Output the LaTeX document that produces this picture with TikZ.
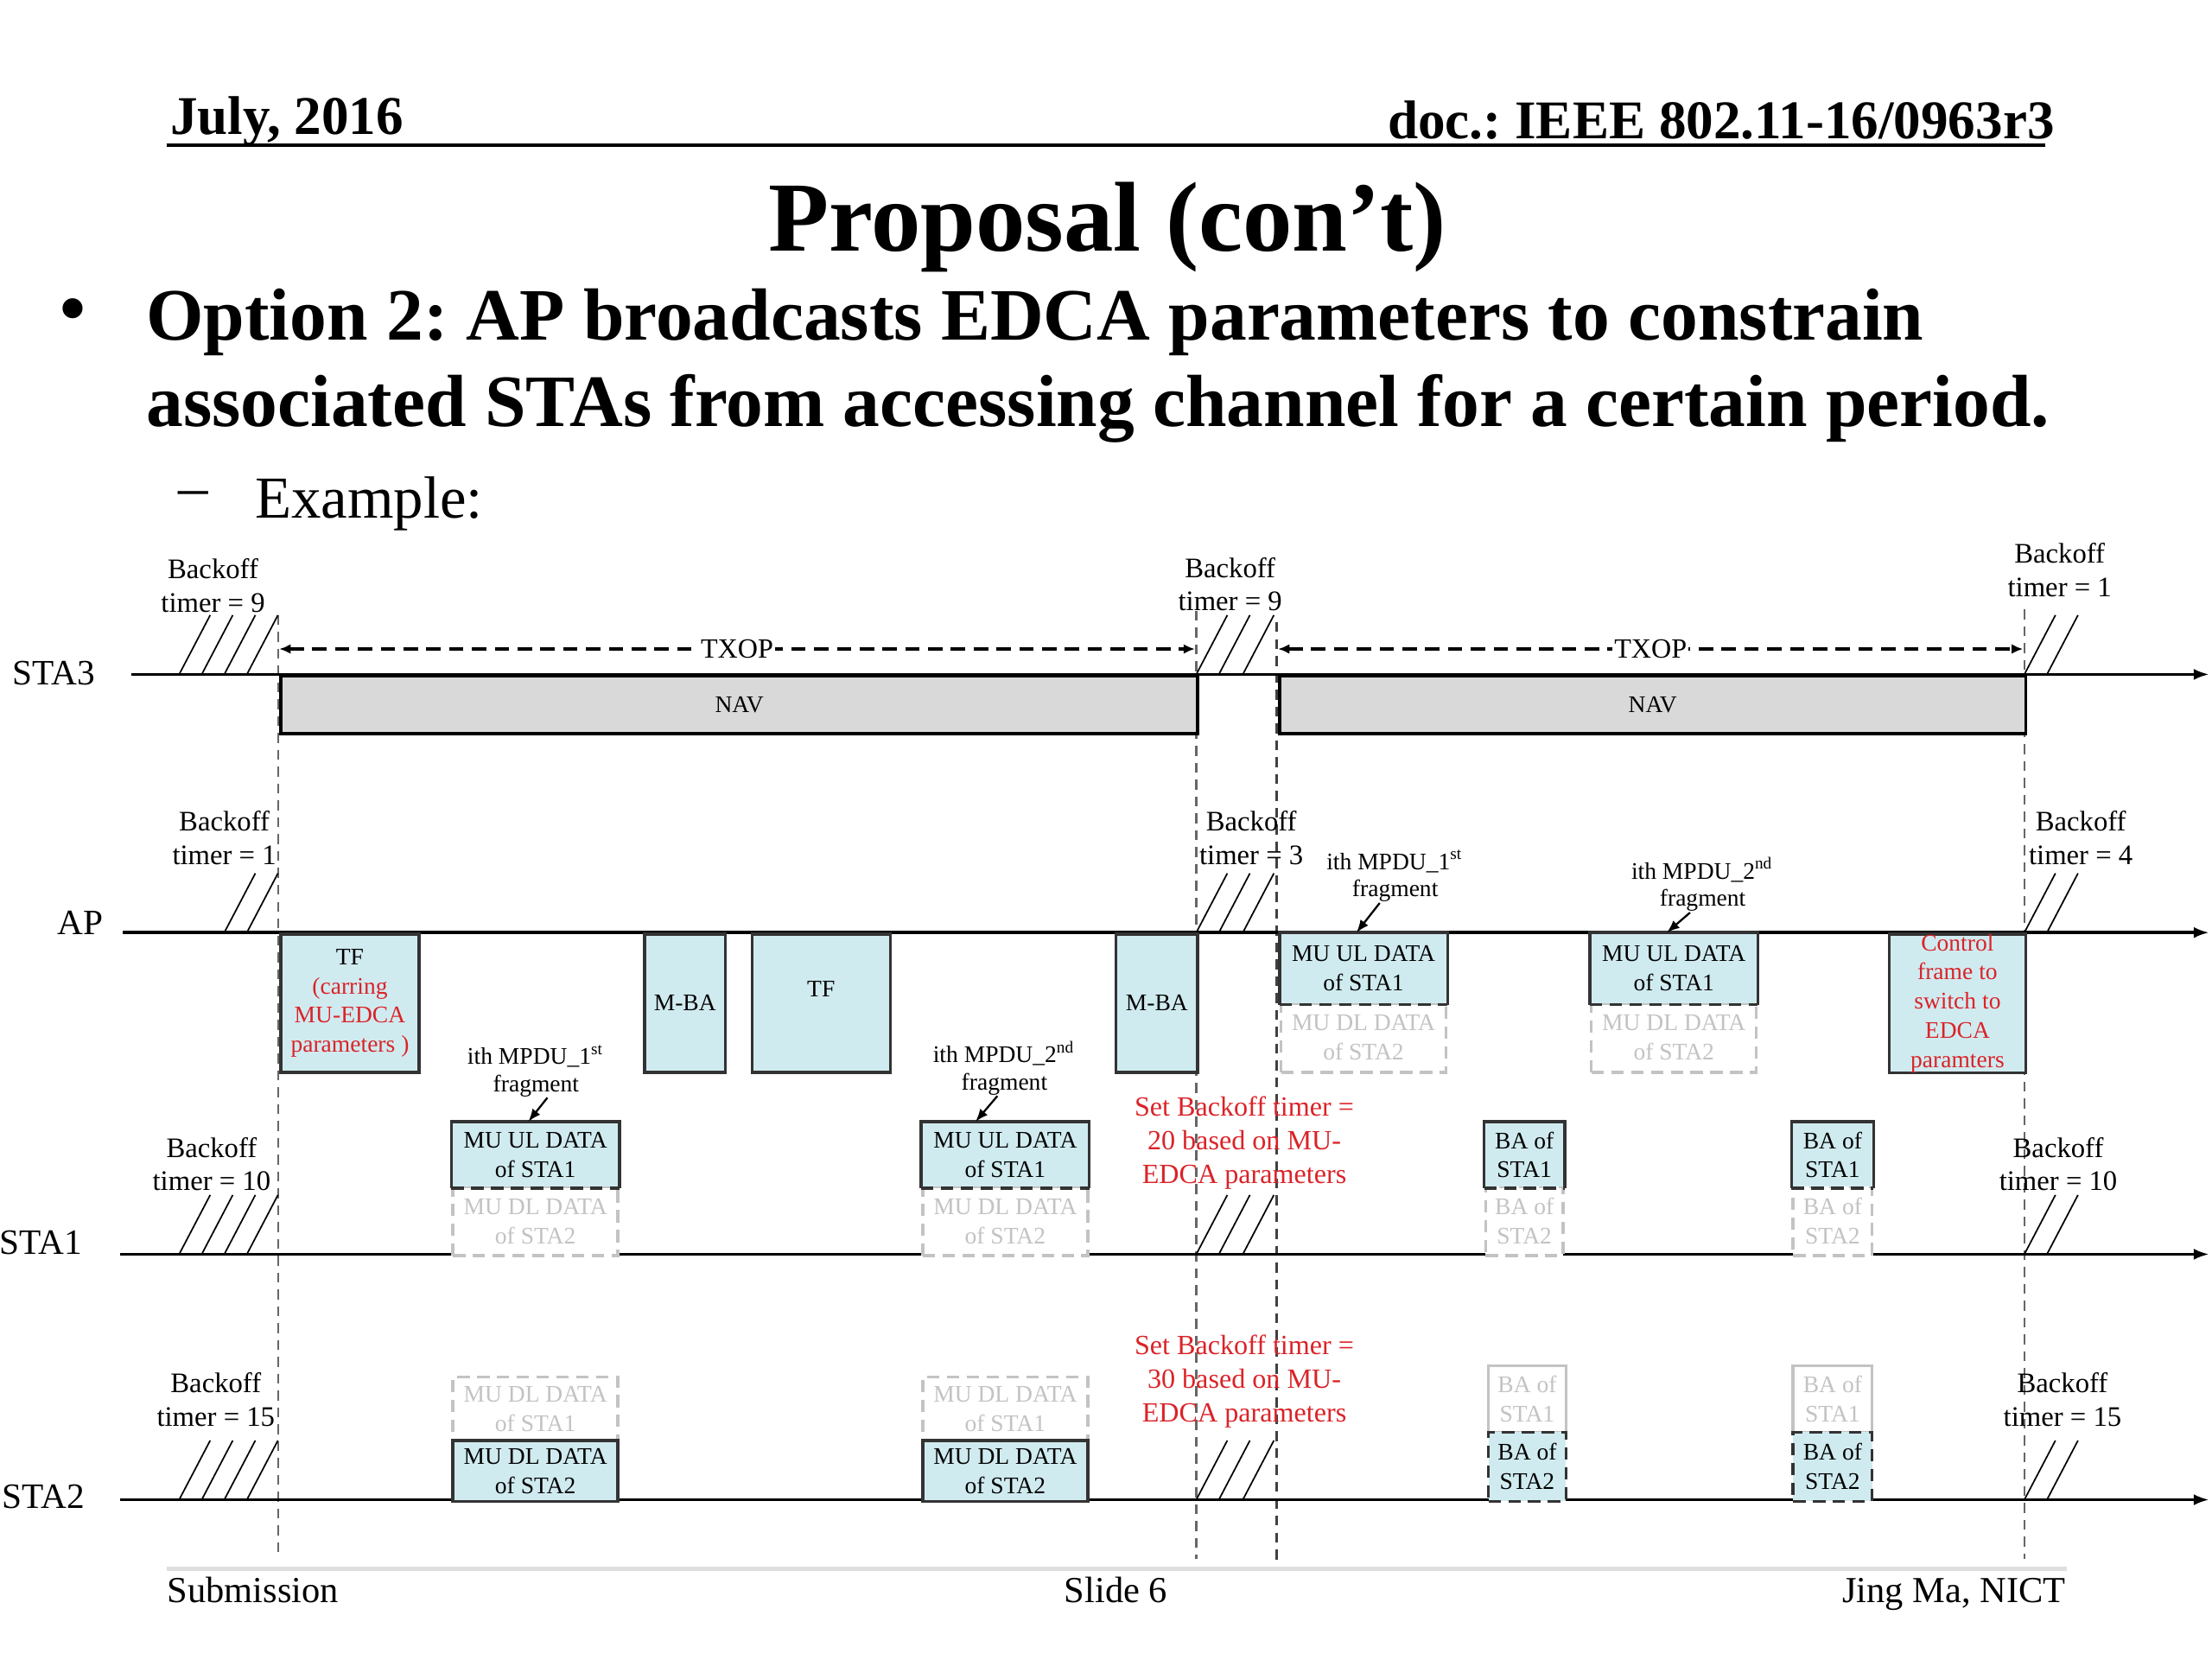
\documentclass[tikz,border=0pt]{standalone}
\usepackage{fontspec}
\setmainfont{Liberation Serif}
\usetikzlibrary{arrows.meta}
\frenchspacing

\definecolor{boxcyan}{RGB}{208,235,240}
\definecolor{navgray}{RGB}{217,217,217}
\definecolor{notered}{RGB}{218,35,40}
\definecolor{ghostgray}{RGB}{195,195,195}

\begin{document}
\begin{tikzpicture}[
        x=0.1mm, y=-0.1mm,
        station/.style={inner sep=0pt, font=\fontsize{7.2}{8.6}\selectfont},
        timeline/.style={-{Latex[length=1.1mm, width=0.8mm]}, line width=0.6pt},
        hatch/.style={line width=0.3pt},
        guide/.style={draw=black!60, line width=0.35pt, dash pattern=on 2pt off 1.4pt},
        txop/.style={{Latex[length=0.8mm, width=0.7mm]}-{Latex[length=0.8mm, width=0.7mm]}, line width=0.6pt, dash pattern=on 2.9pt off 1.7pt},
        txoplabel/.style={fill=white, inner sep=0.4pt, font=\fontsize{5.6}{6.7}\selectfont},
        backoff/.style={align=center, inner sep=0pt, font=\fontsize{5.7}{6.7}\selectfont},
        navbox/.style={rectangle, draw, fill=navgray, line width=0.6pt, anchor=north west, inner sep=0pt, minimum height=4.1mm, font=\fontsize{4.8}{5.8}\selectfont},
        frame/.style={rectangle, draw=black!80, fill=boxcyan, line width=0.6pt, anchor=north west, inner sep=0pt, align=center, font=\fontsize{4.8}{5.9}\selectfont},
        upper/.style={frame, draw=none},
        ghost/.style={frame, draw=ghostgray, fill=white, text=ghostgray, dash pattern=on 2.5pt off 1.5pt},
        frag/.style={align=center, inner sep=0pt, font=\fontsize{4.8}{5.5}\selectfont},
        note/.style={align=center, inner sep=0pt, text=notered, font=\fontsize{5.6}{6.75}\selectfont},
        arrow/.style={-{Latex[length=0.9mm, width=0.7mm]}, line width=0.4pt},
        edge/.style={draw=black!80, line width=0.6pt},
        heading/.style={inner sep=0pt, font=\bfseries\fontsize{11}{13}\selectfont},
        point/.style={anchor=base west, inner sep=0pt, font=\bfseries\fontsize{14.9}{17.5}\selectfont},
        footer/.style={inner sep=0pt, font=\fontsize{7.4}{9}\selectfont},
    ]
    \useasboundingbox (0,0) rectangle (1568,1176);

    % slide header
    \node[heading, anchor=base west] (date) at (120,95) {July, 2016};
    \node[heading, anchor=base east] (docid) at (1457,98) {doc.: IEEE 802.11-16/0963r3};
    \draw[line width=0.7pt] (118,103) -- (1450,103);
    \node[anchor=base, inner sep=0pt, font=\bfseries\fontsize{20}{24}\selectfont] (title) at (785,178) {Proposal (con’t)};
    \node[font=\bfseries\fontsize{14.9}{17.5}\selectfont] (dot) at (52,224) {\textbullet};
    \node[point] (opt1) at (103,241) {Option 2: AP broadcasts EDCA parameters to constrain};
    \node[point] (opt2) at (103,302) {associated STAs from accessing channel for a certain period.};
    \node[font=\fontsize{12}{14}\selectfont] (dash) at (137,354) {–};
    \node[anchor=base west, inner sep=0pt, font=\fontsize{12}{14}\selectfont] (example) at (180,367) {Example:};

    % guides
    \draw[guide] (197,436) -- (197,1105);
    \draw[guide] (848,433) -- (848,1105);
    \draw[guide, draw=black!75, line width=0.55pt] (905,441) -- (905,1113);
    \draw[guide] (1435,432) -- (1435,1105);

    % stations
    \node[station] (sta3) at (38,477) {STA3};
    \node[station] (ap) at (57,654) {AP};
    \node[station] (sta1) at (29,881) {STA1};
    \node[station] (sta2) at (31,1061) {STA2};
    \foreach \y/\x in {478/93, 661/87, 889/85, 1063/85}
        \draw[timeline] (\x,\y) -- (1566,\y);

    % backoff slots
    \foreach \y in {478, 889, 1063}
        \foreach \x in {127, 143, 159, 175}
            \draw[hatch] (\x,\y) -- ++(22,-42);
    \foreach \x in {159, 175}
        \draw[hatch] (\x,661) -- ++(22,-42);
    \foreach \y in {478, 661, 889, 1063} {
        \foreach \x in {848, 864, 881}
            \draw[hatch] (\x,\y) -- ++(22,-42);
        \foreach \x in {1435, 1451}
            \draw[hatch] (\x,\y) -- ++(22,-42);
    }

    \node[backoff] (bo3a) at (151,415) {Backoff\\timer = 9};
    \node[backoff] (bo3b) at (872,414) {Backoff\\timer = 9};
    \node[backoff] (bo3c) at (1460,404) {Backoff\\timer = 1};
    \node[backoff] (boapa) at (159,594) {Backoff\\timer = 1};
    \node[backoff] (boapb) at (887,594) {Backoff\\timer = 3};
    \node[backoff] (boapc) at (1475,594) {Backoff\\timer = 4};
    \node[backoff] (bo1a) at (150,825) {Backoff\\timer = 10};
    \node[backoff] (bo1b) at (1459,825) {Backoff\\timer = 10};
    \node[backoff] (bo2a) at (153,992) {Backoff\\timer = 15};
    \node[backoff] (bo2b) at (1462,992) {Backoff\\timer = 15};

    % STA3: NAV and TXOP
    \node[navbox, minimum width=65mm] (nav1) at (198,478) {NAV};
    \node[navbox, minimum width=52.9mm] (nav2) at (906,478) {NAV};
    \coordinate (txop1s) at (198,460);
    \coordinate (txop1e) at (847,460);
    \coordinate (txop2s) at (906,460);
    \coordinate (txop2e) at (1434,460);
    \draw[txop] (txop1s) -- node[txoplabel] {TXOP} (txop1e);
    \draw[txop] (txop2s) -- node[txoplabel] {TXOP} (txop2e);

    % AP
    \node[frame, minimum width=9.8mm, minimum height=9.8mm] (tf1) at (198,661)
        {TF\\\textcolor{notered}{(carring}\\\textcolor{notered}{MU-EDCA}\\\textcolor{notered}{parameters )}};
    \node[frame, minimum width=5.7mm, minimum height=9.8mm] (mba1) at (456,661) {M-BA};
    \node[frame, minimum width=9.8mm, minimum height=9.8mm] (tf2) at (532,661) {\raisebox{2mm}{TF}};
    \node[frame, minimum width=5.8mm, minimum height=9.8mm] (mba2) at (790,661) {M-BA};
    \node[ghost, minimum width=11.7mm, minimum height=4.9mm] (dl1) at (907,710) {MU DL DATA\\of STA2};
    \node[upper, minimum width=11.7mm, minimum height=4.9mm] (ul1) at (907,661) {MU UL DATA\\of STA1};
    \node[ghost, minimum width=11.7mm, minimum height=4.9mm] (dl2) at (1127,710) {MU DL DATA\\of STA2};
    \node[upper, minimum width=11.7mm, minimum height=4.9mm] (ul2) at (1127,661) {MU UL DATA\\of STA1};
    \node[frame, text=notered, minimum width=9.7mm, minimum height=9.8mm] (ctrl) at (1338,661)
        {Control\\frame to\\switch to\\EDCA\\paramters};

    % STA1
    \node[ghost, minimum width=11.7mm, minimum height=4.9mm] (dl3) at (320,840) {MU DL DATA\\of STA2};
    \node[upper, minimum width=11.7mm, minimum height=4.5mm] (ul3) at (320,795) {MU UL DATA\\of STA1};
    \node[ghost, minimum width=11.7mm, minimum height=4.9mm] (dl4) at (653,840) {MU DL DATA\\of STA2};
    \node[upper, minimum width=11.7mm, minimum height=4.5mm] (ul4) at (653,795) {MU UL DATA\\of STA1};
    \node[ghost, minimum width=5.5mm, minimum height=4.9mm] (ba2) at (1052,840) {BA of\\STA2};
    \node[upper, minimum width=5.5mm, minimum height=4.5mm] (ba1) at (1052,795) {BA of\\STA1};
    \node[ghost, minimum width=5.6mm, minimum height=4.9mm] (ba4) at (1270,840) {BA of\\STA2};
    \node[upper, minimum width=5.6mm, minimum height=4.5mm] (ba3) at (1270,795) {BA of\\STA1};
    \foreach \b in {ul1, ul2, ul3, ul4, ba1, ba3} {
        \draw[edge] (\b.south west) |- (\b.north east) -- (\b.south east);
        \draw[edge, dash pattern=on 2.5pt off 1.5pt] (\b.south west) -- (\b.south east);
    }

    % STA2
    \node[ghost, minimum width=11.7mm, minimum height=4.5mm] (dl5) at (320,975) {MU DL DATA\\of STA1};
    \node[frame, minimum width=11.7mm, minimum height=4.3mm] (dl6) at (320,1020) {MU DL DATA\\of STA2};
    \node[ghost, minimum width=11.7mm, minimum height=4.5mm] (dl7) at (653,975) {MU DL DATA\\of STA1};
    \node[frame, minimum width=11.7mm, minimum height=4.3mm] (dl8) at (653,1020) {MU DL DATA\\of STA2};
    \node[ghost, solid, minimum width=5.5mm, minimum height=4.7mm] (ba5) at (1054,967) {BA of\\STA1};
    \node[frame, dash pattern=on 2.5pt off 1.5pt, minimum width=5.5mm, minimum height=4.9mm] (ba6) at (1054,1014) {BA of\\STA2};
    \node[ghost, solid, minimum width=5.6mm, minimum height=4.7mm] (ba7) at (1270,967) {BA of\\STA1};
    \node[frame, dash pattern=on 2.5pt off 1.5pt, minimum width=5.6mm, minimum height=4.9mm] (ba8) at (1270,1014) {BA of\\STA2};

    % fragments
    \node[frag] (frag1) at (380,759) {ith MPDU\_1\textsuperscript{st}\\fragment};
    \node[frag] (frag2) at (712,757) {ith MPDU\_2\textsuperscript{nd}\\fragment};
    \node[frag] (frag3) at (989,621) {ith MPDU\_1\textsuperscript{st}\\fragment};
    \node[frag] (frag4) at (1207,627) {ith MPDU\_2\textsuperscript{nd}\\fragment};
    \draw[arrow] ([xshift=0.8mm]frag1.south) -- ([xshift=-0.5mm]ul3.north);
    \draw[arrow] ([xshift=-0.5mm]frag2.south) -- ([xshift=-2.1mm]ul4.north);
    \draw[arrow] ([xshift=-1.1mm]frag3.south) -- ([xshift=-0.5mm]ul1.north);
    \draw[arrow] ([xshift=-0.9mm]frag4.south) -- ([xshift=-0.5mm]ul2.north);

    % new backoff values
    \node[note] (set1) at (882,810) {Set Backoff timer =\\20 based on MU-\\EDCA parameters};
    \node[note] (set2) at (882,979) {Set Backoff timer =\\30 based on MU-\\EDCA parameters};

    % slide footer
    \draw[gray!25, line width=0.8pt] (118,1112) -- (1465,1112);
    \node[footer, anchor=base west] (sub) at (118,1136) {Submission};
    \node[footer, anchor=base] (slide) at (791,1136) {Slide 6};
    \node[footer, anchor=base east] (author) at (1465,1136) {Jing Ma, NICT};
\end{tikzpicture}
\end{document}
